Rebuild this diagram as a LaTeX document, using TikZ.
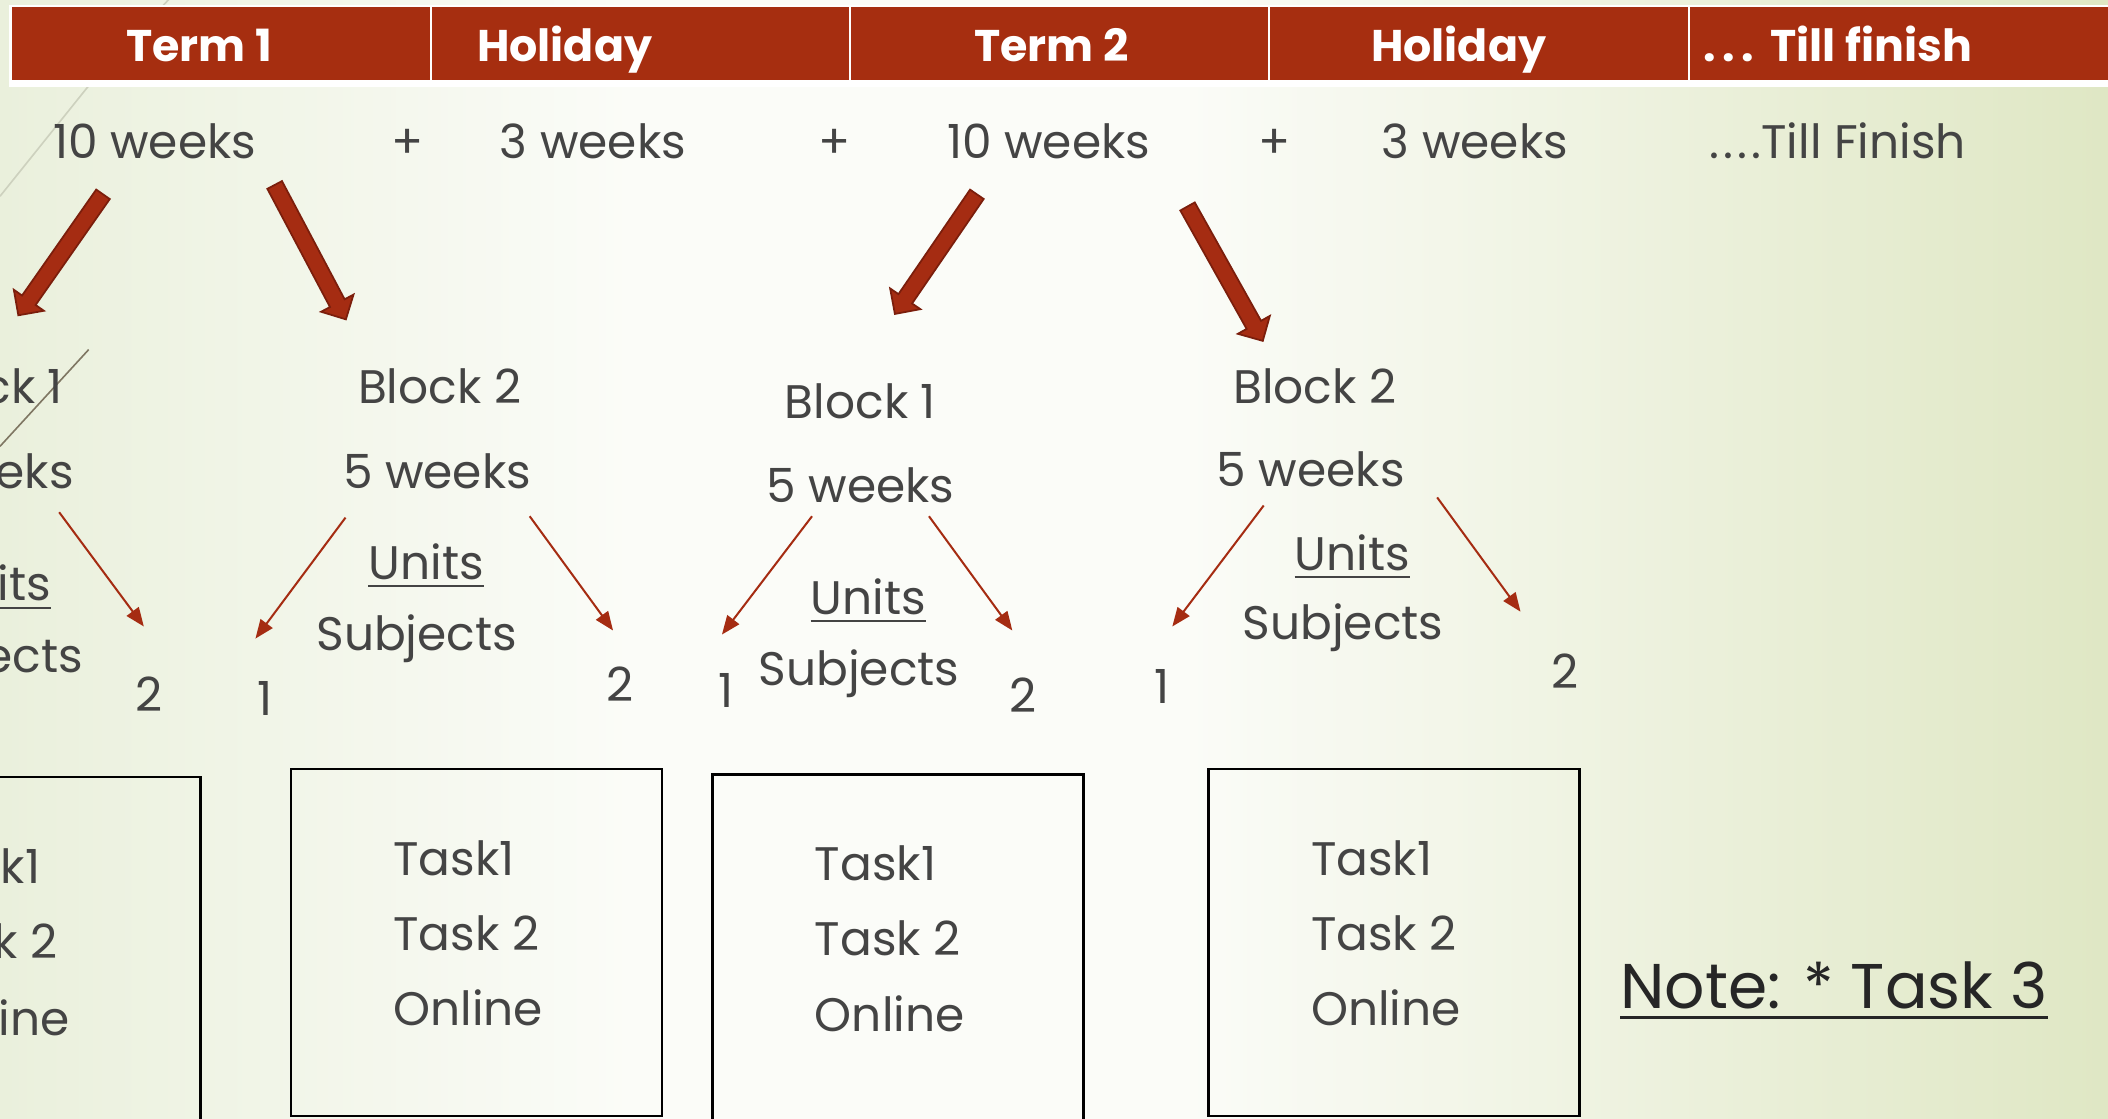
\documentclass[tikz,border=0pt]{standalone}
\usepackage{fontspec}
\setmainfont{Poppins}
\usetikzlibrary{calc,arrows.meta,shapes.arrows}
\definecolor{hdrred}{HTML}{A62E10}
\definecolor{arrowred}{HTML}{A52C12}
\definecolor{arrowdark}{HTML}{7B1E0C}
\definecolor{txt}{HTML}{444444}
\definecolor{notec}{HTML}{262626}
\definecolor{bgL}{HTML}{EAF0DC}
\definecolor{bgM}{HTML}{FBFCF8}
\definecolor{bgR}{HTML}{DFE7C4}
\definecolor{deco}{HTML}{CDD1BE}
\definecolor{decob}{HTML}{7F7763}
\pgfdeclarehorizontalshading{bgshade}{100bp}{color(0bp)=(bgL); color(25bp)=(bgL); color(40bp)=(bgM); color(53bp)=(bgM); color(75bp)=(bgR); color(100bp)=(bgR)}
\tikzset{
  body/.style={font=\fontsize{35}{40}\selectfont, text=txt, inner sep=0pt, anchor=base},
  hdr/.style={font=\fontsize{33}{38}\selectfont\bfseries, text=white, inner sep=0pt, anchor=base},
  tasktxt/.style={body, anchor=base west},
  notetxt/.style={font=\fontsize{47}{52}\selectfont, text=notec, inner sep=0pt, anchor=base west},
  thinarrow/.style={draw=arrowred, line width=1.5pt, -{Triangle[length=14pt,width=11pt]}},
  blockarrow/.style={single arrow, draw=arrowdark, fill=arrowred, line width=1.3pt,
    inner xsep=0pt, inner ysep=5.5pt, single arrow head extend=7.5pt, single arrow head indent=0pt},
  taskbox/.style={draw=black, line width=2pt, inner sep=0pt, anchor=north west},
  uline/.style={draw=txt, line width=1.6pt},
  hdrcell/.style={fill=hdrred, draw=none, inner sep=0pt, anchor=north west, minimum height=54pt},
}
\newcommand\bigarrow[2]{%
  \path let \p1=($(#2)-(#1)$), \n1={atan2(\y1,\x1)}, \n2={veclen(\x1,\y1)} in
    node[blockarrow, anchor=tail, rotate=\n1, minimum height=\n2] at (#1) {};}
\newcommand\ulnode[1]{%
  \draw[uline] ([yshift=-5pt]#1.base west) -- ([yshift=-5pt]#1.base east);}
\begin{document}
\begin{tikzpicture}[x=1pt,y=-1pt]
\useasboundingbox (0,0) rectangle (1568,832);
\clip (0,0) rectangle (1568,832);
% background
\shade[shading=bgshade] (0,0) rectangle (1568,832);
% decorative theme lines
\draw[deco, line width=1.2pt] (127,-2) -- (65,65) -- (0,146);
\draw[decob, line width=1.2pt] (66,260) -- (0,332);
% header band
\fill[white] (6.5,3.5) rectangle (1575,65);
\node[hdrcell, minimum width=310.8pt] (c1) at (8.5,5) {};
\node[hdrcell, minimum width=310.5pt] (c2) at (320.8,5) {};
\node[hdrcell, minimum width=310.5pt] (c3) at (632.8,5) {};
\node[hdrcell, minimum width=310.5pt] (c4) at (944.8,5) {};
\node[hdrcell, minimum width=320pt] (c5) at (1256.8,5) {};
\node[hdr] (h1) at (148,46) {Term 1};
\node[hdr] (h2) at (420,46) {Holiday};
\node[hdr] (h3) at (782,46) {Term 2};
\node[hdr] (h4) at (1085,46) {Holiday};
\node[hdr] (h5) at (1367,46) {.\kern5pt.\kern5pt.\kern12pt Till finish};
% durations row
\node[body] (w1) at (115,118) {10 weeks};
\node[body] (p1) at (303,118) {+};
\node[body] (w2) at (441,118) {3 weeks};
\node[body] (p2) at (621,118) {+};
\node[body] (w3) at (780,118) {10 weeks};
\node[body] (p3) at (948,118) {+};
\node[body] (w4) at (1097,118) {3 weeks};
\node[body] (w5) at (1367,118) {.\kern3pt.\kern3pt.\kern3pt.Till Finish};
% block arrows
\coordinate (a1s) at (77,144);  \coordinate (a1e) at (14,234);
\coordinate (a2s) at (204,137); \coordinate (a2e) at (257,237);
\coordinate (a3s) at (727,144); \coordinate (a3e) at (666,233);
\coordinate (a4s) at (883,153); \coordinate (a4e) at (939,253);
\bigarrow{a1s}{a1e}
\bigarrow{a2s}{a2e}
\bigarrow{a3s}{a3e}
\bigarrow{a4s}{a4e}
% left (cut-off) block
\node[body, anchor=base east] (b0a) at (47,300) {Block 1};
\node[body, anchor=base east] (b0b) at (55,363) {5 weeks};
\node[body, anchor=base east] (b0u) at (38,447) {Units};
\ulnode{b0u}
\node[body, anchor=base east] (b0s) at (62,500) {Subjects};
\node[body] (n02) at (111,529) {2};
\coordinate (t0s) at (44,381); \coordinate (t0e) at (107,466);
\draw[thinarrow] (t0s) -- (t0e);
% term 1 block 2
\node[body] (b1a) at (327,300) {Block 2};
\node[body] (b1b) at (325,363) {5 weeks};
\node[body] (b1u) at (317,431) {Units};
\ulnode{b1u}
\node[body] (b1s) at (310,484) {Subjects};
\node[body] (n11) at (197,532) {1};
\node[body] (n12) at (461,522) {2};
\coordinate (t1s) at (257,385); \coordinate (t1e) at (190,475);
\coordinate (t2s) at (394,384); \coordinate (t2e) at (456,469);
\draw[thinarrow] (t1s) -- (t1e);
\draw[thinarrow] (t2s) -- (t2e);
% term 2 block 1
\node[body] (b2a) at (640,311) {Block 1};
\node[body] (b2b) at (640,374) {5 weeks};
\node[body] (b2u) at (646,457) {Units};
\ulnode{b2u}
\node[body] (b2s) at (639,510) {Subjects};
\node[body] (n21) at (540,526) {1};
\node[body] (n22) at (761,530) {2};
\coordinate (t3s) at (604,384); \coordinate (t3e) at (537,472);
\coordinate (t4s) at (691,384); \coordinate (t4e) at (753,469);
\draw[thinarrow] (t3s) -- (t3e);
\draw[thinarrow] (t4s) -- (t4e);
% term 2 block 2
\node[body] (b3a) at (978,300) {Block 2};
\node[body] (b3b) at (975,362) {5 weeks};
\node[body] (b3u) at (1006,424) {Units};
\ulnode{b3u}
\node[body] (b3s) at (999,476) {Subjects};
\node[body] (n31) at (864,523) {1};
\node[body] (n32) at (1164,512) {2};
\coordinate (t5s) at (940,376); \coordinate (t5e) at (872,466);
\coordinate (t6s) at (1069,370); \coordinate (t6e) at (1131,455);
\draw[thinarrow] (t5s) -- (t5e);
\draw[thinarrow] (t6s) -- (t6e);
% task boxes
\node[taskbox, minimum width=276pt, minimum height=300pt] (box0) at (-128,577) {};
\node[taskbox, minimum width=276pt, minimum height=258pt] (box1) at (215.5,571) {};
\node[taskbox, minimum width=276pt, minimum height=300pt] (box2) at (529,575) {};
\node[taskbox, minimum width=276pt, minimum height=258pt] (box3) at (898,571) {};
\node[body, anchor=base east] (box0t1) at (30,657) {Task1};
\node[body, anchor=base east] (box0t2) at (43,713) {Task 2};
\node[body, anchor=base east] (box0t3) at (52,770) {Online};
\foreach \b in {box1,box2,box3}{
  \node[tasktxt] (\b t1) at ($(\b.north west)+(77,80)$) {Task1};
  \node[tasktxt] (\b t2) at ($(\b.north west)+(77,136)$) {Task 2};
  \node[tasktxt] (\b t3) at ($(\b.north west)+(77,192)$) {Online};
}
% note
\node[notetxt] (note) at (1205,750) {Note: * Task 3};
\draw[draw=notec, line width=2.4pt] ([yshift=-7pt]note.base west) -- ([yshift=-7pt]note.base east);
\end{tikzpicture}
\end{document}
